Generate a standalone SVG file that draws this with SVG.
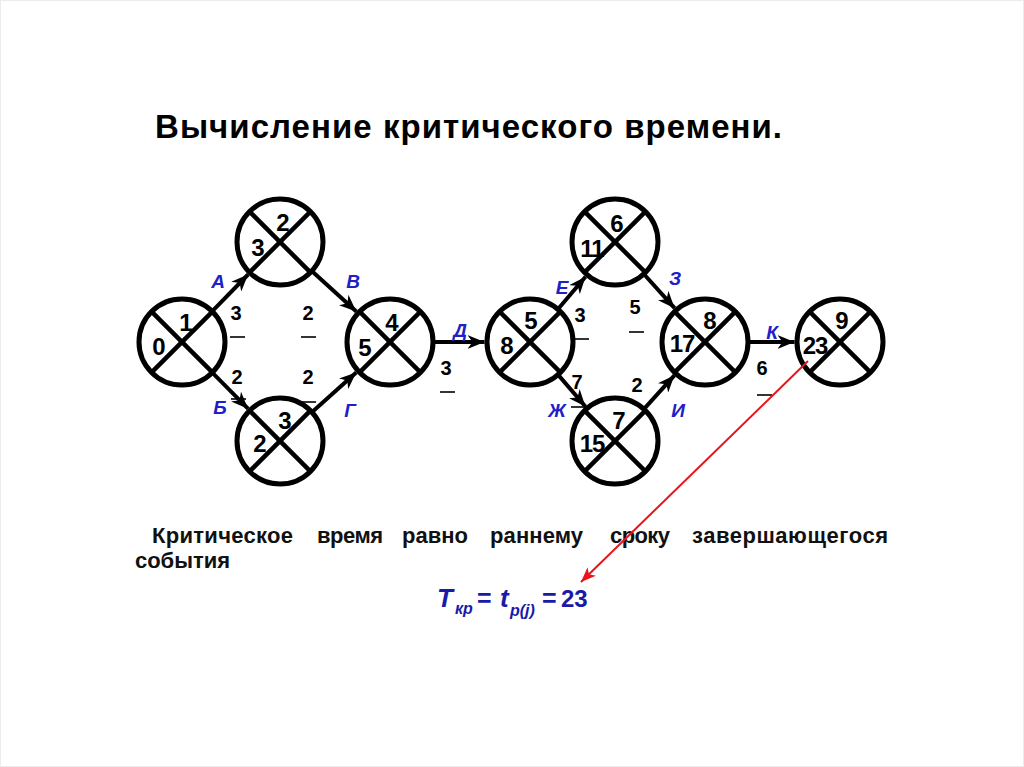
<svg xmlns="http://www.w3.org/2000/svg" width="1024" height="767" viewBox="0 0 1024 767">
<defs>
<marker id="ah" markerWidth="18" markerHeight="14" refX="17" refY="7" orient="auto" markerUnits="userSpaceOnUse">
<path d="M0,0 L17,7 L0,14 L5,7 z" fill="#000"/>
</marker>
<marker id="ahr" markerWidth="16" markerHeight="12" refX="15" refY="6" orient="auto" markerUnits="userSpaceOnUse">
<path d="M0,0 L15,6 L0,12 L4,6 z" fill="#e8141c"/>
</marker>
<style>
.c{fill:#fff;stroke:#000;stroke-width:5}
.x{stroke:#000;stroke-width:4.5}
.n{font-family:"Liberation Sans",Arial,sans-serif;font-weight:bold;font-size:24px;fill:#000;text-anchor:middle}
.d{font-family:"Liberation Sans",Arial,sans-serif;font-weight:bold;font-size:20px;fill:#000;text-anchor:middle}
.l{font-family:"Liberation Sans",Arial,sans-serif;font-weight:bold;font-style:italic;font-size:19px;fill:#2020c8;text-anchor:middle}
.e{stroke:#000;stroke-width:4;fill:none;marker-end:url(#ah)}
.u{stroke:#000;stroke-width:1.6}
.p{font-family:"Liberation Sans",Arial,sans-serif;font-weight:bold;font-size:22px;fill:#111}
.f{font-family:"Liberation Sans",Arial,sans-serif;font-weight:bold;fill:#1a1aa8}
</style>
</defs>
<rect x="0.5" y="0.5" width="1023" height="766" fill="#fff" stroke="#ececec"/>
<text x="155" y="138" font-family="'Liberation Sans',Arial,sans-serif" font-weight="bold" font-size="33" textLength="627" fill="#000">Вычисление критического времени.</text>

<g id="connectors">
<line class="e" x1="212.1" y1="311.3" x2="248.1" y2="274.5"/>
<line class="e" x1="212.3" y1="372.6" x2="248.0" y2="408.7"/>
<line class="e" x1="311.8" y1="270.9" x2="356.3" y2="311.4"/>
<line class="e" x1="311.9" y1="412.2" x2="356.2" y2="372.4"/>
<line class="e" x1="433" y1="342" x2="484.5" y2="342"/>
<line class="e" x1="557.9" y1="309.2" x2="585.5" y2="276.7"/>
<line class="e" x1="558.0" y1="374.6" x2="585.4" y2="406.5"/>
<line class="e" x1="643.8" y1="274.0" x2="674.6" y2="308.2"/>
<line class="e" x1="643.9" y1="409.2" x2="674.4" y2="375.3"/>
<line class="e" x1="748" y1="342" x2="794.5" y2="342"/>
<text class="l" x="218" y="288">А</text>
<text class="l" x="220" y="414">Б</text>
<text class="l" x="353" y="288">В</text>
<text class="l" x="350" y="417">Г</text>
<text class="l" x="460" y="337">Д</text>
<text class="l" x="562" y="294">Е</text>
<text class="l" x="557" y="417">Ж</text>
<text class="l" x="675" y="285">З</text>
<text class="l" x="678" y="417">И</text>
<text class="l" x="772" y="339">К</text>
<text class="d" x="236" y="320">3</text><line class="u" x1="230" y1="337" x2="245" y2="337"/>
<text class="d" x="308" y="320">2</text><line class="u" x1="301" y1="337" x2="316" y2="337"/>
<text class="d" x="237" y="384">2</text><line class="u" x1="231" y1="399" x2="246" y2="399"/>
<text class="d" x="308" y="384">2</text><line class="u" x1="301" y1="402" x2="316" y2="402"/>
<text class="d" x="446" y="375">3</text><line class="u" x1="440" y1="392" x2="455" y2="392"/>
<text class="d" x="580" y="322">3</text><line class="u" x1="574" y1="339" x2="589" y2="339"/>
<text class="d" x="635" y="314">5</text><line class="u" x1="629" y1="332" x2="644" y2="332"/>
<text class="d" x="577" y="389">7</text><line class="u" x1="571" y1="407" x2="586" y2="407"/>
<text class="d" x="637" y="392">2</text><line class="u" x1="631" y1="411" x2="646" y2="411"/>
<text class="d" x="762" y="375">6</text><line class="u" x1="757" y1="395" x2="772" y2="395"/>
</g>

<g id="n1"><circle class="c" cx="182" cy="342" r="43"/><line class="x" x1="151.6" y1="311.6" x2="212.4" y2="372.4"/><line class="x" x1="151.6" y1="372.4" x2="212.4" y2="311.6"/><text class="n" x="186" y="331">1</text><text class="n" x="159" y="355">0</text></g>
<g id="n2"><circle class="c" cx="280" cy="242" r="43"/><line class="x" x1="249.6" y1="211.6" x2="310.4" y2="272.4"/><line class="x" x1="249.6" y1="272.4" x2="310.4" y2="211.6"/><text class="n" x="283" y="231">2</text><text class="n" x="258" y="256">3</text></g>
<g id="n3"><circle class="c" cx="280" cy="441" r="43"/><line class="x" x1="249.6" y1="410.6" x2="310.4" y2="471.4"/><line class="x" x1="249.6" y1="471.4" x2="310.4" y2="410.6"/><text class="n" x="285" y="429">3</text><text class="n" x="260" y="452">2</text></g>
<g id="n4"><circle class="c" cx="390" cy="342" r="43"/><line class="x" x1="359.6" y1="311.6" x2="420.4" y2="372.4"/><line class="x" x1="359.6" y1="372.4" x2="420.4" y2="311.6"/><text class="n" x="392" y="331">4</text><text class="n" x="365" y="356">5</text></g>
<g id="n5"><circle class="c" cx="530" cy="342" r="43"/><line class="x" x1="499.6" y1="311.6" x2="560.4" y2="372.4"/><line class="x" x1="499.6" y1="372.4" x2="560.4" y2="311.6"/><text class="n" x="531" y="329">5</text><text class="n" x="507" y="354">8</text></g>
<g id="n6"><circle class="c" cx="615" cy="242" r="43"/><line class="x" x1="584.6" y1="211.6" x2="645.4" y2="272.4"/><line class="x" x1="584.6" y1="272.4" x2="645.4" y2="211.6"/><text class="n" x="617" y="232">6</text><text class="n" x="592" y="257" letter-spacing="-1">11</text></g>
<g id="n7"><circle class="c" cx="615" cy="441" r="43"/><line class="x" x1="584.6" y1="410.6" x2="645.4" y2="471.4"/><line class="x" x1="584.6" y1="471.4" x2="645.4" y2="410.6"/><text class="n" x="619" y="429">7</text><text class="n" x="592" y="452" letter-spacing="-1">15</text></g>
<g id="n8"><circle class="c" cx="705" cy="342" r="43"/><line class="x" x1="674.6" y1="311.6" x2="735.4" y2="372.4"/><line class="x" x1="674.6" y1="372.4" x2="735.4" y2="311.6"/><text class="n" x="710" y="329">8</text><text class="n" x="682" y="352" letter-spacing="-1">17</text></g>
<g id="n9"><circle class="c" cx="840" cy="342" r="43"/><line class="x" x1="809.6" y1="311.6" x2="870.4" y2="372.4"/><line class="x" x1="809.6" y1="372.4" x2="870.4" y2="311.6"/><text class="n" x="842" y="329">9</text><text class="n" x="815" y="354" letter-spacing="-1">23</text></g>

<g id="caption">
<text class="p" x="152" y="543" textLength="141">Критическое</text>
<text class="p" x="317" y="543" textLength="66">время</text>
<text class="p" x="402" y="543" textLength="66">равно</text>
<text class="p" x="490" y="543" textLength="93">раннему</text>
<text class="p" x="610" y="543" textLength="60">сроку</text>
<text class="p" x="692" y="543" textLength="196">завершающегося</text>
<text class="p" x="135" y="568" textLength="95">события</text>
</g>

<line x1="808" y1="361" x2="581" y2="582" stroke="#e8141c" stroke-width="2" marker-end="url(#ahr)"/>

<g id="formula">
<text class="f" x="437" y="607" font-size="26" font-style="italic">T</text>
<text class="f" x="455" y="614" font-size="16" font-style="italic">кр</text>
<text class="f" x="477" y="607" font-size="25">=</text>
<text class="f" x="500" y="607" font-size="26" font-style="italic">t</text>
<text class="f" x="510" y="616" font-size="16" font-style="italic">p(j)</text>
<text class="f" x="542" y="607" font-size="25">=</text>
<text class="f" x="561" y="607" font-size="24">23</text>
</g>
</svg>
